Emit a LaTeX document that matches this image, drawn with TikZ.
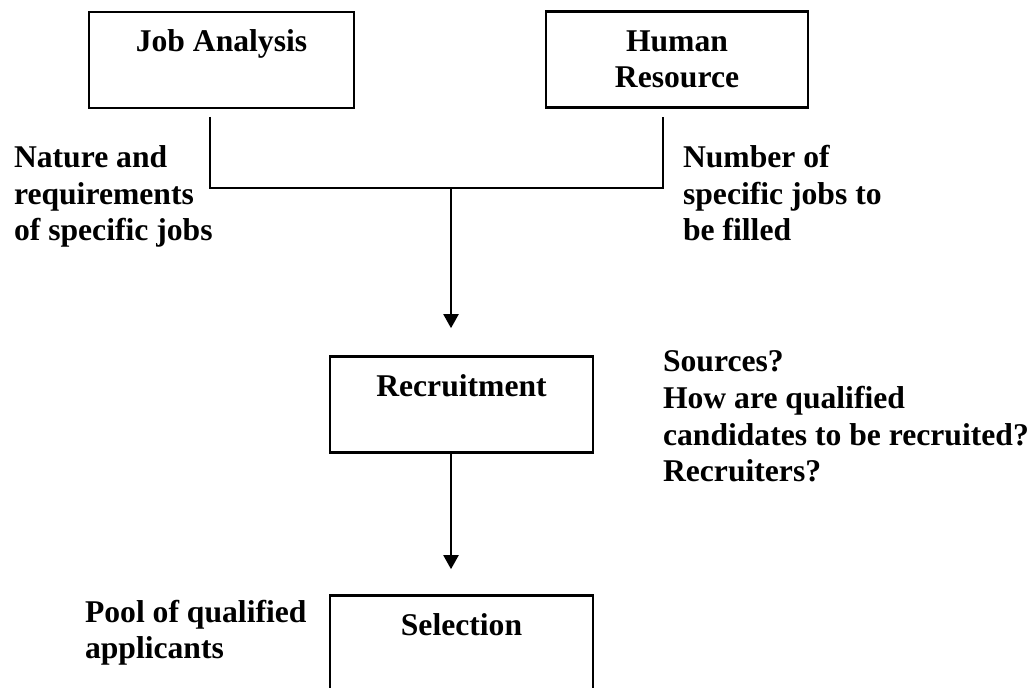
\documentclass[tikz,border=0pt]{standalone}
\usepackage{fontspec}
\setmainfont{Liberation Serif}
\usepackage{tikz}
\usetikzlibrary{positioning, arrows.meta}

\begin{document}
\begin{tikzpicture}[>={Triangle[length=1.4mm, width=1.5mm]},
    every node/.style={font=\fontsize{9}{10.5}\selectfont\bfseries},
    box/.style={draw, line width=0.75pt, minimum width=2.63cm, minimum height=0.96cm,
        text height=0.22cm, text depth=0.38cm, align=center},
    note/.style={align=left, inner sep=0pt, anchor=base west},
    line width=0.6pt]
    \useasboundingbox (0,0) rectangle (10.34,-6.88);
    \clip (0,0) rectangle (10.34,-6.88);

    % Nodes
    \node[box, minimum width=2.65cm] (ja) at (2.215,-0.60) {Job Analysis};
    \node[box, minimum width=2.62cm, text height=0.60cm, text depth=0.03cm] (hr) at (6.77,-0.595) {Human\\Resource};
    \node[box] (rec) at (4.615,-4.045) {Recruitment};
    \node[box] (sel) at (4.615,-6.435) {Selection};

    % notes (base = last line)
    \node[note] (nature) at (0.13,-2.41) {Nature and\\requirements\\of specific jobs};
    \node[note] (number) at (6.82,-2.41) {Number of\\specific jobs to\\be filled};
    \node[note] (sources) at (6.62,-4.82) {Sources?\\How are qualified\\candidates to be recruited?\\Recruiters?};
    \node[note] (pool) at (0.84,-6.59) {Pool of qualified\\applicants};

    \coordinate (jaout) at (2.10,-1.17);
    \coordinate (hrout) at (6.63,-1.17);
    \coordinate (join) at (4.51,-1.88);

    % Connections
    \draw (jaout) |- (join) -| (hrout);
    \draw[->, shorten >=0.27cm] (join) -- (join |- rec.north);
    \draw[->, shorten >=0.25cm] (join |- rec.south) -- (join |- sel.north);
\end{tikzpicture}
\end{document}
